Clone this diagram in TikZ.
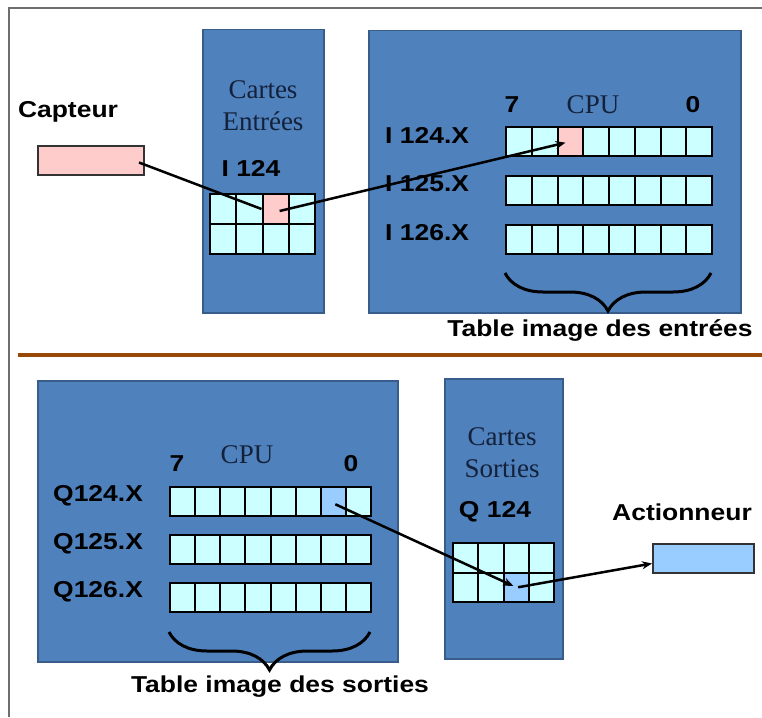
\documentclass[tikz,border=0pt]{standalone}
\usepackage{fontspec}
\setmainfont{Liberation Serif}
\newfontfamily\labfont[FakeStretch=1.15]{Liberation Sans}
\usetikzlibrary{arrows.meta,decorations.pathreplacing}
\definecolor{boxblue}{HTML}{4F81BD}
\definecolor{boxedge}{HTML}{385D8A}
\definecolor{cellcyan}{HTML}{CCFFFF}
\definecolor{cellpink}{HTML}{FFCCCC}
\definecolor{celllblue}{HTML}{99CCFF}
\definecolor{sepbrown}{HTML}{984807}
\definecolor{serifink}{HTML}{14213A}
\definecolor{framegray}{HTML}{6E6E6E}
\begin{document}
\begin{tikzpicture}[x=1pt,y=-1pt,
 panel/.style={draw=boxedge,line width=1.5pt,fill=boxblue,anchor=north west,inner sep=0pt},
 cell/.style={draw=black,line width=2pt,fill=cellcyan,anchor=north west,inner sep=0pt},
 device/.style={draw=black!80,line width=2pt,anchor=north west,inner sep=0pt},
 lab/.style={font=\labfont\bfseries\fontsize{23}{26}\selectfont,text=black,inner sep=0pt},
 seriftxt/.style={font=\fontsize{27}{32}\selectfont,text=serifink,align=center,inner sep=0pt},
 link/.style={line width=2.5pt,black},
 tip/.style={-{Stealth[length=10pt,width=8pt]}},
 curly/.style={decorate,decoration={brace,amplitude=38pt,mirror},line width=3pt}
]
\useasboundingbox (0,0) rectangle (762,717);
\fill[white] (0,0) rectangle (762,717);

% frame and separator
\draw[framegray,line width=2pt] (9,717) -- (9,8) -- (762,8);
\draw[sepbrown,line width=3.5pt] (18,355) -- (762,355);

% ---------- top half ----------
\node[panel,minimum width=121pt,minimum height=283pt] (ce) at (202,29) {};
\node[panel,minimum width=372pt,minimum height=282pt] (ti) at (368,30) {};

\node[lab] (caplab) at (68,112) {Capteur};
\node[device,fill=cellpink,minimum width=106pt,minimum height=29pt] (cap) at (37,145) {};

\node[seriftxt] (cetxt) at (263,106) {Cartes\\Entrées};
\node[lab] (celab) at (251,168) {I 124};

\foreach \r in {1,2}
 \foreach \c in {1,...,4}{
  \ifnum\r\c=13 \def\f{cellpink}\else\def\f{cellcyan}\fi
  \node[cell,fill=\f,minimum width=26.25pt,minimum height=30pt] (ce-\r-\c)
    at ({209+(\c-1)*26.25},{193+(\r-1)*30}) {};
 }

\node[lab] (ti7) at (512,105) {7};
\node[seriftxt] (ticpu) at (593,105) {CPU};
\node[lab] (ti0) at (693,105) {0};

\foreach \r/\y/\t in {1/126/I 124.X,2/175/I 125.X,3/224/I 126.X}{
  \node[lab,anchor=west] (til-\r) at (385,{\y+9}) {\t};
  \foreach \c in {1,...,8}{
   \ifnum\r\c=13 \def\f{cellpink}\else\def\f{cellcyan}\fi
   \node[cell,fill=\f,minimum width=25.75pt,minimum height=29pt] (ti-\r-\c)
     at ({505+(\c-1)*25.75},\y) {};
  }
}
\coordinate (tb1) at (505,273);
\coordinate (tb2) at (711,273);
\draw[curly] (tb1) -- (tb2);
\node[lab] (titab) at (600,330) {Table image des entrées};

\draw[link] ([xshift=-6pt,yshift=-2pt]cap.east) -- (ce-1-3.west);
\draw[link,tip,shorten >=5pt] ([xshift=4pt,yshift=-2pt]ce-1-3.center) -- (ti-1-3.center);

% ---------- bottom half ----------
\node[panel,minimum width=360pt,minimum height=281pt] (bi) at (37,380) {};
\node[panel,minimum width=118pt,minimum height=280pt] (cs) at (444,378) {};

\node[seriftxt] (bicpu) at (247,455) {CPU};
\node[lab] (bi7) at (177,464) {7};
\node[lab] (bi0) at (351,464) {0};

\foreach \r/\y/\t in {1/486/Q124.X,2/534/Q125.X,3/582/Q126.X}{
  \node[lab,anchor=west] (bil-\r) at (53,{\y+10}) {\t};
  \foreach \c in {1,...,8}{
   \ifnum\r\c=17 \def\f{celllblue}\else\def\f{cellcyan}\fi
   \node[cell,fill=\f,minimum width=25.125pt,minimum height=28.5pt] (bi-\r-\c)
     at ({169+(\c-1)*25.125},\y) {};
  }
}
\coordinate (bb1) at (169,632);
\coordinate (bb2) at (370,632);
\draw[curly] (bb1) -- (bb2);
\node[lab] (bitab) at (280,687) {Table image des sorties};

\node[seriftxt] (cstxt) at (502,453) {Cartes\\Sorties};
\node[lab] (cslab) at (495,512) {Q 124};
\foreach \r in {1,2}
 \foreach \c in {1,...,4}{
  \ifnum\r\c=23 \def\f{celllblue}\else\def\f{cellcyan}\fi
  \node[cell,fill=\f,minimum width=25.25pt,minimum height=29.5pt] (cs-\r-\c)
    at ({452+(\c-1)*25.25},{542+(\r-1)*29.5}) {};
 }

\node[lab] (actlab) at (682,512) {Actionneur};
\node[device,fill=celllblue,minimum width=101pt,minimum height=29pt] (act) at (652,543) {};

\draw[link,tip,shorten >=3pt] ([xshift=2pt,yshift=-3pt]bi-1-7.center) -- (cs-2-3.center);
\draw[link,tip] ([xshift=2pt]cs-2-3.center) -- ([yshift=-5pt]act.west);
\end{tikzpicture}
\end{document}
